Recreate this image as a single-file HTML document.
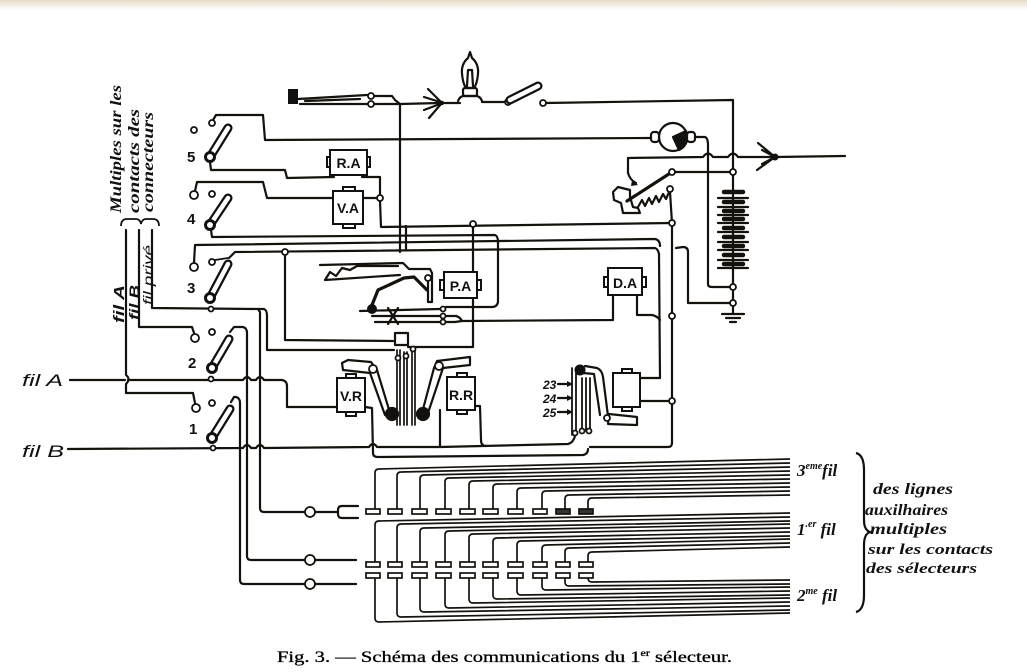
<!DOCTYPE html>
<html><head><meta charset="utf-8"><style>
html,body{margin:0;padding:0;background:#fff;}
svg{display:block}
</style></head><body>
<svg width="1027" height="672" viewBox="0 0 1027 672" xmlns="http://www.w3.org/2000/svg">
<defs><linearGradient id="tg" x1="0" y1="0" x2="0" y2="1"><stop offset="0" stop-color="#e6dcc6"/><stop offset="1" stop-color="#fff"/></linearGradient></defs>
<rect width="1027" height="672" fill="#fff"/>
<rect width="1027" height="10" fill="url(#tg)"/>

<g fill="none" stroke="#15110c" stroke-width="2.2" stroke-linejoin="round" stroke-linecap="round">
<!-- top key -->
<rect x="288" y="89" width="10" height="15" fill="#111" stroke="none"/>
<path d="M298,99 L367,95 M300,104 L367,104 M305,101 L360,99"/>
<path d="M374,96 L392,96 L395,100 L400,104 M374,104 L400,104 L440,103"/>
<path d="M400,104 L400,252 M406,226 L406,250"/>
<!-- feather arrow left -->
<path d="M428,89 L441,102 M424,97 L440,102 M424,110 L440,104 M429,118 L441,104"/>
<!-- lamp -->
<path d="M444,103 L460,103"/>
<path d="M458,101 Q460,96 464,96 L476,96 Q480,96 482,101"/>
<rect x="463" y="88" width="14" height="8" rx="2"/>
<path d="M470,52 L472,58 Q479,64 478,74 Q477,84 474,88 L466,88 Q463,84 462,74 Q461,64 468,58 Z"/>
<path d="M467,86 L468,70 L472,70 L473,86"/>
<path d="M482,102 L505,102"/>
<path d="M546,103 L733,100 L733,169"/>
<!-- line y=140 -->
<path d="M213,120 L216,115 L263,115 L265,140 L650,138"/>
<!-- dynamo -->
<circle cx="673" cy="137" r="14" fill="#fff"/>
<path d="M673,137 L686,131 A14,14 0 0 1 679,150 Z" fill="#111"/>
<rect x="651" y="132" width="8" height="10" rx="3" fill="#fff"/>
<rect x="687" y="132" width="8" height="10" rx="3" fill="#fff"/>
<path d="M695,137 L705,137 Q708,138 708,145 L708,284 Q708,287 712,287 L730,287"/>
<path d="M628,173 L628,158 L703,157 Q708,150 713,157 L728,157 Q733,150 738,157 L775,157 L845,156"/>
<path d="M628,173 Q630,180 636,183"/>
<path d="M758,143 L775,157 M762,150 L775,157 M757,170 L775,157 M762,164 L775,157"/>
<!-- rheostat -->
<path d="M613,192 L618,187 L630,190 L630,197 L633,207 L638,208 L640,213 L623,213 L621,203 L614,200 Z"/>
<path d="M638,207 L642,200 L645,206 L649,198 L652,204 L656,196 L659,202 L663,194 L666,199 L670,190"/>
<path d="M627,201 L672,172" stroke-width="3.2"/>
<path d="M670,192 L672,223 M675,172 L730,172"/>
<!-- battery -->
<path d="M733,175 L733,268"/>
<path d="M718,198 L748,198 M718,207 L748,207 M718,215 L748,215 M718,223 L748,223 M718,232 L748,232 M718,242 L748,242 M718,250 L748,250 M718,260 L748,260 M718,268 L748,268"/>
<g stroke-width="4.5">
<path d="M724,192 L743,192 M724,202 L743,202 M724,211 L743,211 M724,219 L743,219 M724,228 L743,228 M724,237 L743,237 M724,246 L743,246 M724,255 L743,255 M724,264 L743,264"/>
</g>
<path d="M733,268 L733,284 M733,290 L733,300 M733,306 L733,314"/>
<path d="M722,314 L744,314 M726,318 L740,318 M730,322 L736,322"/>
<path d="M730,303 L688,303 L688,252 Q688,247 683,247 L676,248"/>
<!-- right verticals -->
<path d="M672,223 L672,443 Q672,447 668,447 L590,447"/>
<path d="M669,401 L641,401"/>
<path d="M659,254 L660,378 L641,378"/>
<!-- switch wires -->
<path d="M210,162 L211,170 L285,170 L287,178 L334,177"/>
<path d="M362,177 L380,177 L380,195 M380,201 L381,227 L672,223"/>
<path d="M195,191 L197,182 L263,182 L267,198 L333,198 M363,198 L377,198"/>
<path d="M211,230 L212,237 L495,235 Q498,236 498,242 L498,302 Q497,307 492,307 L446,307"/>
<path d="M194,263 L195,245 L655,239 Q660,240 660,246"/>
<path d="M229,258 L235,252 L655,248 Q658,249 659,254"/>
<path d="M285,255 L285,340 L393,341"/>
<path d="M473,227 L473,272 M473,298 L473,347 L408,347"/>
<path d="M152,230 L152,308 L258,309 L260,312 L260,508 Q260,512 264,512 L305,512"/>
<path d="M258,309 L264,309 Q267,310 267,316 L267,350 L394,350"/>
<path d="M230,332 L234,327 L243,327 Q247,328 247,333 L247,556 Q247,560 251,560 L305,560"/>
<path d="M231,402 L234,397 L236,397 Q240,398 240,403 L240,580 Q240,584 244,584 L305,584"/>
<path d="M139,230 L139,327 L192,327 L194,333"/>
<path d="M126,230 L126,375 Q131,379 126,384 L126,393 L193,393 L195,403"/>
<path d="M70,380 L125,380 M128,380 L243,380 Q247,374 251,380 L256,380 Q260,374 264,380 L282,380 Q287,381 287,386 L287,407 L337,407"/>
<path d="M68,449 L243,448 Q247,442 251,448 L256,448 Q260,442 264,448 L369,447 Q373,441 377,447 L440,447 L440,410 M440,447 L568,444 Q573,443 575,436"/>
<path d="M475,406 L480,406 L481,440 Q481,446 486,446"/>
<path d="M365,407 L372,408 L373,453 Q373,457 378,457 L583,455 Q588,454 588,449"/>
<!-- middle mechanism -->
<path d="M397,350 L397,425 M400,350 L400,425 M404,352 L404,425 M407,352 L407,425 M412,350 L412,425 M415,350 L415,425" stroke-width="1.7"/>
<rect x="395" y="333" width="13" height="12" fill="#fff"/>
<path d="M342,363 L348,360 L371,362 L377,370 L390,413 L385,415 L370,373 L343,370 Z" fill="#fff"/>
<path d="M470,357 L470,365 L443,368 L428,413 L422,413 L434,368 L437,361 Z" fill="#fff"/>
<circle cx="392" cy="414" r="6" fill="#111"/>
<circle cx="423" cy="414" r="6" fill="#111"/>
<path d="M320,265 L403,263 L409,269 L430,269 L432,273 L432,302 L428,302 L428,282"/>
<path d="M325,280 L400,275 M325,280 L330,272 L336,276 L342,268 L350,270 L357,266 L398,266"/>
<path d="M372,305 L378,290 L404,278 L414,277 L427,290" stroke-width="3.2"/>
<path d="M360,311 L440,309 M372,316 L440,316 M375,322 L440,322 M388,308 L398,324 M398,308 L388,324"/>
<path d="M446,316 L456,316 Q460,317 462,321 M446,322 L455,322 L462,321 L613,320 L613,295"/>
<path d="M637,295 L637,315 L652,315 Q657,316 660,320"/>
<!-- selector -->
<path d="M572,368 L572,435 M576,368 L576,435 M582,378 L582,431 M586,378 L586,431 M590,378 L590,431" stroke-width="1.8"/>
<path d="M585,366 L597,368 Q602,370 603,377 L608,416 M583,373 L594,374 L600,415"/>
<path d="M609,414 L637,417 L637,425 L608,424 Z" fill="#fff"/>
<path d="M558,384 L570,384 M558,398 L570,398 M558,412 L570,412"/>
<!-- bank left -->
<path d="M315,512 L338,512 M358,506 L342,506 Q338,506 338,510 L338,514 Q338,518 342,518 L358,518"/>
<path d="M315,560 L356,560 M315,584 L356,584"/>
</g>

<!-- filled dots & circles -->
<g fill="#fff" stroke="#15110c" stroke-width="1.8">
<circle cx="371" cy="96" r="3"/><circle cx="371" cy="104" r="3"/>
<circle cx="508" cy="102" r="3"/><circle cx="543" cy="103" r="3"/>
<circle cx="733" cy="172" r="3"/><circle cx="733" cy="287" r="3"/><circle cx="733" cy="303" r="3"/>
<circle cx="672" cy="172" r="3"/><circle cx="670" cy="189" r="3"/>
<circle cx="672" cy="223" r="3"/><circle cx="672" cy="316" r="3"/><circle cx="672" cy="401" r="3"/>
<circle cx="380" cy="198" r="3"/><circle cx="473" cy="224" r="3"/><circle cx="285" cy="252" r="3"/>
<circle cx="428" cy="278" r="3"/>
<circle cx="443" cy="309" r="2.5"/><circle cx="443" cy="316" r="2.5"/><circle cx="443" cy="322" r="2.5"/>
<circle cx="398" cy="358" r="2.5"/><circle cx="406" cy="356" r="2.5"/><circle cx="413" cy="349" r="2.5"/>
<circle cx="373" cy="369" r="4"/><circle cx="439" cy="366" r="4"/>
<circle cx="575" cy="433" r="2.5"/><circle cx="582" cy="431" r="2.5"/><circle cx="589" cy="431" r="2.5"/>
<circle cx="607" cy="418" r="3"/>
<circle cx="310" cy="512" r="5"/><circle cx="310" cy="560" r="5"/><circle cx="310" cy="584" r="5"/>
</g>
<g fill="#111" stroke="none">
<circle cx="442" cy="103" r="2.2"/>
<circle cx="775" cy="157" r="3.5"/>
<circle cx="372" cy="309" r="5"/>
<circle cx="580" cy="370" r="5.5"/>
<path d="M632,180 L638,185 L631,186 Z"/>
<path d="M573,384 L567,381 L567,387 Z M573,398 L567,395 L567,401 Z M573,412 L567,409 L567,415 Z"/>
</g>

<!-- lamp switch lever -->
<g stroke-linecap="round">
<line x1="510" y1="100" x2="538" y2="86" stroke="#111" stroke-width="9"/>
<line x1="510" y1="100" x2="538" y2="86" stroke="#fff" stroke-width="4.5"/>
</g>

<!-- switches 1-5 -->
<g stroke-linecap="round">
<line x1="210" y1="157" x2="228" y2="128" stroke="#111" stroke-width="9"/>
<line x1="210" y1="157" x2="228" y2="128" stroke="#fff" stroke-width="4.5"/>
<line x1="210" y1="225" x2="228" y2="198" stroke="#111" stroke-width="9"/>
<line x1="210" y1="225" x2="228" y2="198" stroke="#fff" stroke-width="4.5"/>
<line x1="210" y1="298" x2="228" y2="264" stroke="#111" stroke-width="9"/>
<line x1="210" y1="298" x2="228" y2="264" stroke="#fff" stroke-width="4.5"/>
<line x1="212" y1="368" x2="229" y2="339" stroke="#111" stroke-width="9"/>
<line x1="212" y1="368" x2="229" y2="339" stroke="#fff" stroke-width="4.5"/>
<line x1="212" y1="438" x2="230" y2="409" stroke="#111" stroke-width="9"/>
<line x1="212" y1="438" x2="230" y2="409" stroke="#fff" stroke-width="4.5"/>
</g>
<g fill="#fff" stroke="#111" stroke-width="3">
<circle cx="210" cy="157" r="4.5"/><circle cx="210" cy="225" r="4.5"/><circle cx="210" cy="298" r="4.5"/>
<circle cx="212" cy="368" r="4.5"/><circle cx="212" cy="438" r="4.5"/>
</g>
<g fill="#fff" stroke="#111" stroke-width="1.8">
<circle cx="194" cy="130" r="3"/><circle cx="212" cy="123" r="3"/>
<circle cx="194" cy="195" r="4"/><circle cx="212" cy="194" r="3"/>
<circle cx="194" cy="267" r="4"/><circle cx="212" cy="262" r="3"/>
<circle cx="195" cy="338" r="4"/><circle cx="212" cy="332" r="3"/>
<circle cx="196" cy="408" r="4"/><circle cx="212" cy="403" r="3"/>
<circle cx="211" cy="309" r="2.5"/><circle cx="211" cy="379" r="2.5"/><circle cx="213" cy="448" r="2.5"/>
</g>
<path d="M215,260 L228,258" stroke="#111" stroke-width="1.8"/>

<!-- boxes -->
<g fill="#fff" stroke="#111" stroke-width="2">
<rect x="327" y="157" width="5" height="10"/><rect x="365" y="157" width="5" height="10"/>
<rect x="330" y="150" width="37" height="25"/>
<rect x="343" y="187" width="12" height="5"/><rect x="343" y="223" width="12" height="5"/>
<rect x="333" y="191" width="30" height="33"/>
<rect x="440" y="280" width="5" height="10"/><rect x="476" y="280" width="5" height="10"/>
<rect x="444" y="272" width="33" height="26"/>
<rect x="604" y="277" width="5" height="10"/><rect x="641" y="277" width="5" height="10"/>
<rect x="608" y="268" width="34" height="27"/>
<rect x="346" y="374" width="10" height="5"/><rect x="346" y="411" width="10" height="5"/>
<rect x="337" y="378" width="28" height="34"/>
<rect x="457" y="373" width="10" height="5"/><rect x="457" y="409" width="10" height="5"/>
<rect x="447" y="377" width="28" height="33"/>
<rect x="622" y="369" width="10" height="5"/><rect x="622" y="406" width="10" height="5"/>
<rect x="613" y="373" width="27" height="34"/>
</g>
<g font-family="Liberation Sans, sans-serif" font-weight="bold" font-size="14" fill="#111" text-anchor="middle">
<text x="348.5" y="168">R.A</text>
<text x="348" y="213">V.A</text>
<text x="460.5" y="291">P.A</text>
<text x="625" y="288">D.A</text>
<text x="351" y="401">V.R</text>
<text x="461" y="400">R.R</text>
</g>
<g font-family="Liberation Sans, sans-serif" font-weight="bold" font-size="15" fill="#111">
<text x="187" y="162">5</text>
<text x="187" y="224">4</text>
<text x="187" y="293">3</text>
<text x="188" y="368">2</text>
<text x="189" y="434">1</text>
</g>
<g font-family="Liberation Sans, sans-serif" font-weight="bold" font-style="italic" font-size="12" fill="#111">
<text x="543" y="389">23</text>
<text x="543" y="403">24</text>
<text x="543" y="417">25</text>
</g>

<!-- bank lines -->
<g fill="none" stroke="#15110c" stroke-width="1.7">
<path d="M375,509 L375,473 Q375,469 379,469 L790,459"/>
<path d="M397,509 L397,476 Q397,472 401,472 L790,463"/>
<path d="M420,509 L420,479 Q420,475 424,475 L790,467"/>
<path d="M445,509 L445,482 Q445,478 449,478 L790,471"/>
<path d="M469,509 L469,485 Q469,481 473,481 L790,475"/>
<path d="M493,509 L493,488 Q493,484 497,484 L790,479"/>
<path d="M517,509 L517,492 Q517,488 521,488 L790,483"/>
<path d="M542,509 L542,495 Q542,491 546,491 L790,487"/>
<path d="M565,509 L565,499 Q565,495 569,495 L790,491"/>
<path d="M588,509 L588,502 Q588,498 592,498 L790,495"/>

<path d="M375,562 L375,525 Q375,521 379,521 L790,513"/>
<path d="M397,562 L397,528 Q397,524 401,524 L790,517"/>
<path d="M420,562 L420,532 Q420,528 424,528 L790,521"/>
<path d="M445,562 L445,535 Q445,531 449,531 L790,524"/>
<path d="M469,562 L469,538 Q469,534 473,534 L790,528"/>
<path d="M493,562 L493,542 Q493,538 497,538 L790,532"/>
<path d="M517,562 L517,545 Q517,541 521,541 L790,536"/>
<path d="M542,562 L542,549 Q542,545 546,545 L790,539"/>
<path d="M565,562 L565,552 Q565,548 569,548 L790,543"/>
<path d="M588,562 L588,556 Q588,552 592,552 L790,547"/>

<path d="M375,578 L375,618 Q375,622 379,622 L790,613"/>
<path d="M397,578 L397,613 Q397,617 401,617 L790,610"/>
<path d="M420,578 L420,608 Q420,612 424,612 L790,606"/>
<path d="M445,578 L445,604 Q445,608 449,608 L790,602"/>
<path d="M469,578 L469,599 Q469,603 473,603 L790,598"/>
<path d="M493,578 L493,595 Q493,599 497,599 L790,595"/>
<path d="M517,578 L517,591 Q517,595 521,595 L790,591"/>
<path d="M542,578 L542,586 Q542,590 546,590 L790,587"/>
<path d="M565,578 L565,582 Q565,586 569,586 L790,584"/>
<path d="M588,578 L588,578 Q588,582 592,582 L790,580"/>
</g>
<g fill="#fff" stroke="#15110c" stroke-width="1.7">
<rect x="366" y="509" width="14" height="5"/><rect x="388" y="509" width="14" height="5"/><rect x="412" y="509" width="15" height="5"/><rect x="436" y="509" width="15" height="5"/><rect x="460" y="509" width="15" height="5"/><rect x="483" y="509" width="15" height="5"/><rect x="508" y="509" width="15" height="5"/><rect x="533" y="509" width="14" height="5"/><rect x="556" y="509" width="14" height="5" fill="#333"/><rect x="579" y="509" width="14" height="5" fill="#333"/>
<rect x="366" y="562" width="14" height="5"/><rect x="388" y="562" width="14" height="5"/><rect x="412" y="562" width="15" height="5"/><rect x="436" y="562" width="15" height="5"/><rect x="460" y="562" width="15" height="5"/><rect x="483" y="562" width="15" height="5"/><rect x="508" y="562" width="15" height="5"/><rect x="533" y="562" width="14" height="5"/><rect x="556" y="562" width="14" height="5"/><rect x="579" y="562" width="14" height="5"/>
<rect x="366" y="573" width="14" height="5"/><rect x="388" y="573" width="14" height="5"/><rect x="412" y="573" width="15" height="5"/><rect x="436" y="573" width="15" height="5"/><rect x="460" y="573" width="15" height="5"/><rect x="483" y="573" width="15" height="5"/><rect x="508" y="573" width="15" height="5"/><rect x="533" y="573" width="14" height="5"/><rect x="556" y="573" width="14" height="5"/><rect x="579" y="573" width="14" height="5"/>
</g>

<!-- braces -->
<path d="M856,453 Q864,455 864,470 L864,520 Q864,530 870,532 Q864,534 864,545 L864,595 Q864,610 856,612" fill="none" stroke="#111" stroke-width="2.2"/>
<path d="M121,226 Q121,219 127,219 L136,219 Q140,219 141,224 Q142,219 146,219 L153,219 Q159,219 159,226" fill="none" stroke="#111" stroke-width="1.8"/>

<!-- texts -->
<g font-family="Liberation Serif, serif" font-style="italic" font-weight="bold" fill="#111">
<text transform="translate(121,213) rotate(-90)" font-size="16" textLength="128" lengthAdjust="spacingAndGlyphs">Multiples sur les</text>
<text transform="translate(139,213) rotate(-90)" font-size="16" textLength="104" lengthAdjust="spacingAndGlyphs">contacts des</text>
<text transform="translate(153,212) rotate(-90)" font-size="16" textLength="100" lengthAdjust="spacingAndGlyphs">connecteurs</text>
</g>
<g font-family="Liberation Sans, sans-serif" font-style="italic" fill="#111">
<text transform="translate(124,323) rotate(-90)" font-size="15" textLength="38" lengthAdjust="spacingAndGlyphs" font-weight="bold">fil A</text>
<text transform="translate(139,320) rotate(-90)" font-size="14" textLength="35" lengthAdjust="spacingAndGlyphs" font-weight="bold">fil B</text>
<text transform="translate(153,305) rotate(-90)" font-size="14" textLength="60" lengthAdjust="spacingAndGlyphs">fil privé</text>
<text x="22" y="386" font-size="17" textLength="41" lengthAdjust="spacingAndGlyphs">fil A</text>
<text x="22" y="457" font-size="17" textLength="42" lengthAdjust="spacingAndGlyphs">fil B</text>
</g>
<g font-family="Liberation Serif, serif" font-style="italic" font-weight="bold" fill="#111">
<text x="797" y="476" font-size="17">3<tspan font-size="10" dy="-7">eme</tspan><tspan dy="7">fil</tspan></text>
<text x="797" y="535" font-size="17">1<tspan font-size="10" dy="-8">.er</tspan><tspan dy="8"> fil</tspan></text>
<text x="797" y="601" font-size="17">2<tspan font-size="10" dy="-7">me</tspan><tspan dy="7"> fil</tspan></text>
<text x="873" y="494" font-size="16" textLength="80" lengthAdjust="spacingAndGlyphs">des lignes</text>
<text x="865" y="515" font-size="16" textLength="83" lengthAdjust="spacingAndGlyphs">auxilhaires</text>
<text x="870" y="534" font-size="16" textLength="77" lengthAdjust="spacingAndGlyphs">multiples</text>
<text x="868" y="554" font-size="15" textLength="125" lengthAdjust="spacingAndGlyphs">sur les contacts</text>
<text x="866" y="573" font-size="15" textLength="111" lengthAdjust="spacingAndGlyphs">des sélecteurs</text>
</g>
<text x="277" y="662" font-family="Liberation Serif, serif" font-size="15.5" fill="#000" stroke="#000" stroke-width="0.3" textLength="455" lengthAdjust="spacingAndGlyphs">Fig. 3. — Schéma des communications du 1<tspan font-size="9" dy="-6">er</tspan><tspan dy="6"> sélecteur.</tspan></text>
</svg>
</body></html>
